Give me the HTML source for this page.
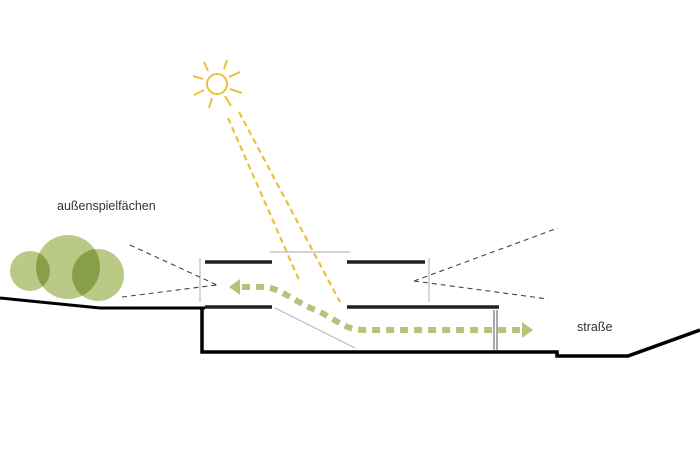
<!DOCTYPE html>
<html><head><style>
html,body{margin:0;padding:0;background:#fff;}
svg{display:block;}
text{font-family:"Liberation Sans",sans-serif;font-size:12.5px;fill:#333;}
</style></head><body>
<svg width="700" height="466" viewBox="0 0 700 466">
<!-- trees -->
<g fill="#a9bc68" fill-opacity="0.8" style="isolation:isolate">
<circle cx="30" cy="271" r="20" style="mix-blend-mode:multiply"/>
<circle cx="68" cy="267" r="32" style="mix-blend-mode:multiply"/>
<circle cx="98" cy="275" r="26" style="mix-blend-mode:multiply"/>
</g>
<!-- sun -->
<g stroke="#e8c23a" stroke-width="2" fill="none">
<circle cx="217" cy="84" r="10"/>
<line x1="208" y1="71" x2="204" y2="62"/>
<line x1="224" y1="69" x2="227" y2="60"/>
<line x1="229" y1="77" x2="240" y2="72"/>
<line x1="230" y1="89" x2="242" y2="93"/>
<line x1="225" y1="96" x2="231" y2="106"/>
<line x1="212" y1="98" x2="209" y2="108"/>
<line x1="204" y1="90" x2="194" y2="95"/>
<line x1="203" y1="79" x2="193" y2="76"/>
<line x1="228" y1="118" x2="299" y2="280" stroke-dasharray="6 4" stroke-width="2.2"/>
<line x1="239" y1="112" x2="340" y2="302" stroke-dasharray="6 4" stroke-width="2.2"/>
</g>
<!-- grey lines -->
<g stroke="#bbb" stroke-width="1.2">
<line x1="270" y1="252" x2="350" y2="252"/>
<line x1="200" y1="258" x2="200" y2="302"/>
<line x1="429" y1="258" x2="429" y2="302"/>
<line x1="275" y1="308" x2="355" y2="348"/>
</g>
<!-- dashed sight lines -->
<g stroke="#444" stroke-width="1.1" stroke-dasharray="5 4">
<line x1="130" y1="245" x2="217" y2="285"/>
<line x1="122" y1="297" x2="217" y2="285"/>
<line x1="414" y1="281" x2="558" y2="228"/>
<line x1="414" y1="281" x2="548" y2="299"/>
</g>
<!-- slabs -->
<g stroke="#231f20" stroke-width="3.5">
<line x1="205" y1="262" x2="272" y2="262"/>
<line x1="347" y1="262" x2="425" y2="262"/>
<line x1="205" y1="307" x2="272" y2="307"/>
<line x1="347" y1="307" x2="499" y2="307"/>
</g>
<g stroke="#555" stroke-width="1">
<line x1="494" y1="310" x2="494" y2="350"/>
<line x1="497" y1="310" x2="497" y2="350"/>
</g>
<!-- ground -->
<polyline points="0,298 100,308 205,308" fill="none" stroke="#000" stroke-width="3"/>
<polyline points="202,308 202,352 557,352 557,356 628,356 700,330" fill="none" stroke="#000" stroke-width="3.5"/>
<!-- green flow -->
<path d="M242,287 L262,287 C280,287 290,300 320,312 C340,322 345,330 365,330 L520,330" fill="none" stroke="#b5c47a" stroke-width="6" stroke-dasharray="8 6"/>
<polygon points="229,287 240,279 240,295" fill="#b5c47a"/>
<polygon points="533,330 522,322 522,338" fill="#b5c47a"/>
<text x="57" y="210">außenspielfächen</text>
<text x="577" y="331">straße</text>
</svg>
</body></html>
